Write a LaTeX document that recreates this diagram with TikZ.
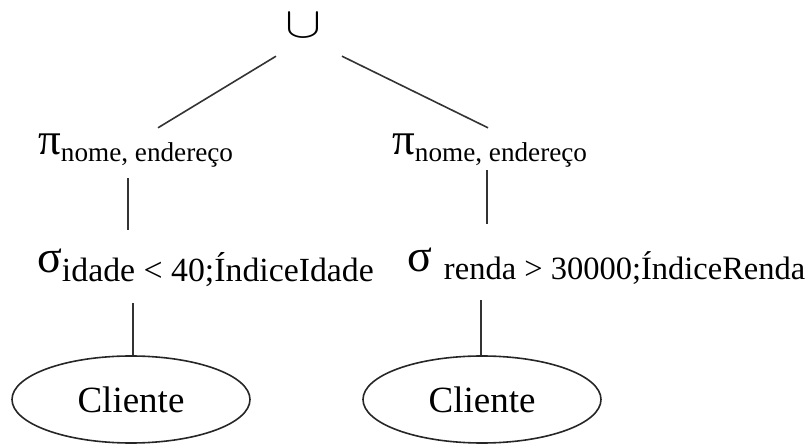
\documentclass[tikz,border=0pt]{standalone}
\usepackage{fontspec}
\setmainfont{Liberation Serif}
\usetikzlibrary{shapes.geometric}

\newcommand{\opsize}[2]{{\fontsize{#1}{#1}\selectfont #2}}

\begin{document}
\begin{tikzpicture}[x=1pt,y=-1pt,
    lbl/.style={inner sep=0pt,anchor=base west},
    rel/.style={ellipse,draw,line width=1.6pt,black!85,text=black,minimum width=238pt,minimum height=87pt,inner sep=0pt},
    edge/.style={line width=1.6pt,black!80}]
            \useasboundingbox (0,0) rectangle (812,446);
            \node[inner sep=0pt] at (304,26) (uniao) {\resizebox{36pt}{24pt}{$\cup$}};
            \node[lbl,text height=23pt,text depth=13pt] at (38,155) (pi1)
                {\opsize{45}{π}\raisebox{-7pt}{\opsize{27.2}{nome, endereço}}};
            \node[lbl,text height=23pt,text depth=13pt] at (392,155) (pi2)
                {\opsize{45}{π}\raisebox{-7pt}{\opsize{27.2}{nome, endereço}}};
            \node[lbl,text height=22pt,text depth=15pt] at (37,273) (sig1)
                {\opsize{46}{σ}\raisebox{-9pt}{\opsize{33.8}{idade < 40;ÍndiceIdade}}};
            \node[lbl,text height=22pt,text depth=15pt] at (407,272) (sig2)
                {\opsize{46}{σ}\hspace{12pt}\raisebox{-8pt}{\opsize{32.5}{renda > 30000;ÍndiceRenda}}};
            \node[rel] at (131,399.5) (cli1) {\opsize{37}{Cliente}\hspace{20pt}};
            \node[rel] at (482,399.5) (cli2) {\opsize{37}{Cliente}\hspace{20pt}};
            \draw[edge] ([xshift=-28pt,yshift=-18pt]uniao.south) -- ([xshift=120pt,yshift=4pt]pi1.north west);
            \draw[edge] ([xshift=38pt,yshift=-18pt]uniao.south) -- ([xshift=96pt,yshift=4pt]pi2.north west);
            \draw[edge] ([xshift=90pt,yshift=-10pt]pi1.south west) -- ([xshift=91pt,yshift=21pt]sig1.north west);
            \draw[edge] ([xshift=95pt,yshift=-2pt]pi2.south west) -- ([xshift=80pt,yshift=26pt]sig2.north west);
            \draw[edge] ([xshift=96pt,yshift=-15pt]sig1.south west) -- ([xshift=2pt]cli1.north);
            \draw[edge] ([xshift=74pt,yshift=-13pt]sig2.south west) -- ([xshift=-1pt]cli2.north);
\end{tikzpicture}
\end{document}
